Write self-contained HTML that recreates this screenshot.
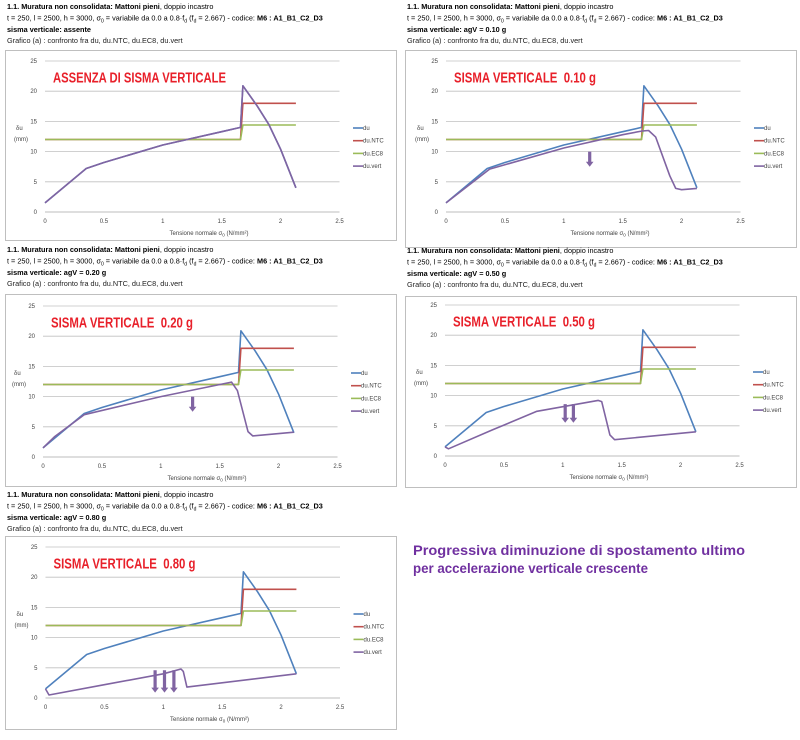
<!DOCTYPE html>
<html><head><meta charset="utf-8">
<style>
body{margin:0;background:#fff;width:800px;height:735px;overflow:hidden;font-family:"Liberation Sans",sans-serif}
svg text{font-family:"Liberation Sans",sans-serif;white-space:pre}
</style></head>
<body>
<svg id="s" width="800" height="735" xmlns="http://www.w3.org/2000/svg"></svg>
<script>
const S=document.getElementById('s');let h='';
const B='#4f81bd',R='#c0504d',G='#9bbb59',P='#8064a2';
const du=[[0,1.5],[0.35,7.2],[0.5,8.2],[1,11.1],[1.5,13.3],[1.66,14],[1.68,20.9],[1.8,17.6],[1.9,14.5],[2.0,10.4],[2.13,4]];
const ntc=[[0,12],[1.66,12],[1.68,18],[2.13,18]];
const ec8=[[0,12],[1.66,12],[1.68,14.4],[2.13,14.4]];
function header(x,y,ag){
 h+=`<text x="${x}" y="${y}" font-size="7.3" fill="#000"><tspan font-weight="bold">1.1. Muratura non consolidata: Mattoni pieni</tspan>, doppio incastro</text>`;
 h+=`<text x="${x}" y="${y+11.5}" font-size="7.3" fill="#000">t = 250, l = 2500, h = 3000, σ<tspan font-size="5" dy="2">0</tspan><tspan dy="-2"> = variabile da 0.0 a 0.8·f</tspan><tspan font-size="5" dy="2">d</tspan><tspan dy="-2"> (f</tspan><tspan font-size="5" dy="2">d</tspan><tspan dy="-2"> = 2.667) - codice: </tspan><tspan font-weight="bold">M6 : A1_B1_C2_D3</tspan></text>`;
 h+=`<text x="${x}" y="${y+23}" font-size="7.3" font-weight="bold" fill="#000">sisma verticale: ${ag}</text>`;
 h+=`<text x="${x}" y="${y+34}" font-size="7.3" fill="#222">Grafico (a) : confronto fra du, du.NTC, du.EC8, du.vert</text>`;
}
function panel(bx,by,bw,bh,x0,y0,title,tl,vert,arrows){
 const sx=294.5/2.5,sy=151/25;
 const X=v=>(x0+v*sx).toFixed(1),Y=v=>(y0-v*sy).toFixed(1);
 h+=`<rect x="${bx+.5}" y="${by+.5}" width="${bw}" height="${bh}" fill="#fff" stroke="#bfbfbf"/>`;
 for(let v=5;v<=25;v+=5)h+=`<line x1="${x0}" x2="${X(2.5)}" y1="${Y(v)}" y2="${Y(v)}" stroke="#c0c0c0" stroke-width="0.8"/>`;
 h+=`<line x1="${x0}" x2="${X(2.5)}" y1="${y0}" y2="${y0}" stroke="#a6a6a6" stroke-width="0.8"/>`;
 for(let v=0;v<=25;v+=5)h+=`<text x="${x0-8}" y="${+Y(v)+2}" font-size="6" text-anchor="end" fill="#444">${v}</text>`;
 [0,0.5,1,1.5,2,2.5].forEach(v=>h+=`<text x="${X(v)}" y="${y0+11}" font-size="6" text-anchor="middle" fill="#444">${v}</text>`);
 h+=`<text x="${x0+164}" y="${y0+23}" font-size="6" text-anchor="middle" fill="#444">Tensione normale σ<tspan font-size="4.5" dy="1.5">0</tspan><tspan dy="-1.5"> (N/mm²)</tspan></text>`;
 h+=`<text x="${x0-29}" y="${y0-82}" font-size="6" fill="#444">δu</text><text x="${x0-31}" y="${y0-71}" font-size="6" fill="#444">(mm)</text>`;
 const L=(pts,c)=>h+=`<polyline points="${pts.map(p=>X(p[0])+','+Y(p[1])).join(' ')}" fill="none" stroke="${c}" stroke-width="1.6" stroke-linejoin="round"/>`;
 L(du,B);L(ntc,R);L(ec8,G);L(vert,P);
 const lx=x0+308;[['du',B],['du.NTC',R],['du.EC8',G],['du.vert',P]].forEach((e,i)=>{const yy=y0-151+67+i*12.7;
  h+=`<line x1="${lx}" x2="${lx+10}" y1="${yy}" y2="${yy}" stroke="${e[1]}" stroke-width="1.6"/><text x="${lx+10}" y="${yy+2}" font-size="6" fill="#444">${e[0]}</text>`;});
 h+=`<text x="${x0+8}" y="${y0-151+21.5}" font-size="15" font-weight="bold" fill="#e8202a" textLength="${tl}" lengthAdjust="spacingAndGlyphs">${title}</text>`;
 arrows.forEach(a=>{const ax=+X(a[0]),t=+Y(a[1]),b=+Y(a[2]);
  h+=`<polygon points="${ax-1.6},${t} ${ax+1.6},${t} ${ax+1.6},${b-5} ${ax+3.8},${b-5} ${ax},${b} ${ax-3.8},${b-5} ${ax-1.6},${b-5}" fill="${P}"/>`;});
}
header(7,9,'assente');
panel(5,50,391,190,45,212,'ASSENZA DI SISMA VERTICALE',173,du,[]);
header(407,9,'agV = 0.10 g');
panel(405,50,391,197,446,212,'SISMA VERTICALE  0.10 g',142,
 [[0,1.5],[0.37,7.1],[1,10.6],[1.5,12.8],[1.66,13.4],[1.72,13.5],[1.78,12.4],[1.9,6],[1.95,3.9],[2.0,3.7],[2.13,3.9]],[[1.22,10,7.5]]);
header(7,252,'agV = 0.20 g');
panel(5,294,391,192,43,457,'SISMA VERTICALE  0.20 g',142,
 [[0,1.5],[0.1,3.4],[0.35,7],[1,10],[1.6,12.4],[1.65,11],[1.74,4.2],[1.78,3.5],[2.13,4.1]],[[1.27,10,7.5]]);
header(407,253,'agV = 0.50 g');
panel(405,296,391,191,445,456,'SISMA VERTICALE  0.50 g',142,
 [[0,1.5],[0.03,1.2],[0.4,4.3],[0.78,7.4],[1.3,9.2],[1.33,9],[1.4,3.5],[1.44,2.7],[2.13,4]],[[1.02,8.6,5.5],[1.09,8.6,5.5]]);
header(7,497,'agV = 0.80 g');
panel(5,536,391,193,45.5,698,'SISMA VERTICALE  0.80 g',142,
 [[0,1.5],[0.03,0.5],[0.5,2.2],[1.0,4],[1.15,4.8],[1.17,4.4],[1.2,1.8],[2.13,4]],[[0.93,4.6,0.9],[1.01,4.6,0.9],[1.09,4.6,0.9]]);
h+=`<text x="413" y="555" font-size="14" font-weight="bold" fill="#7030a0" textLength="332" lengthAdjust="spacingAndGlyphs">Progressiva diminuzione di spostamento ultimo</text>`;
h+=`<text x="413" y="573" font-size="14" font-weight="bold" fill="#7030a0" textLength="235" lengthAdjust="spacingAndGlyphs">per accelerazione verticale crescente</text>`;
S.innerHTML=h;
</script>
</body></html>
